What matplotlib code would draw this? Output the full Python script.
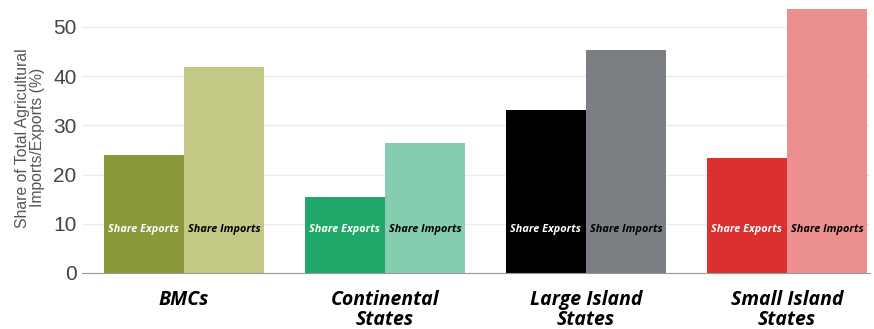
import matplotlib
matplotlib.use("Agg")
import matplotlib.pyplot as plt
import numpy as np

# datos
grupos = ["BMCs", "Continental\nStates", "Large Island\nStates", "Small Island\nStates"]
share_exports = [24.0, 15.4, 33.1, 23.3]
share_imports = [41.8, 26.4, 45.3, 53.7]
colores_exp = ["#8b983a", "#1fa86a", "#000000", "#da3030"]
colores_imp = ["#c3c885", "#86cdb0", "#7b7e82", "#ec8f8f"]
yticks = [0, 10, 20, 30, 40, 50]

fig = plt.figure(figsize=(8.74, 3.29), dpi=100)
ax = fig.add_axes([82/874, 56/329, (870-82)/874, 270.6/329])

x = np.arange(len(grupos))
w = 0.4
ax.bar(x - w/2, share_exports, w, color=colores_exp, zorder=2)
ax.bar(x + w/2, share_imports, w, color=colores_imp, zorder=2)

# etiquetas dentro de las barras
for i in range(len(grupos)):
    ax.text(x[i] - w/2, 8.8, "Share Exports", color="white", fontsize=7.8,
            fontweight="bold", fontstyle="italic", family="Open Sans",
            ha="center", va="center", zorder=3)
    ax.text(x[i] + w/2, 8.8, "Share Imports", color="black", fontsize=7.8,
            fontweight="bold", fontstyle="italic", family="Open Sans",
            ha="center", va="center", zorder=3)

ax.set_xlim(-0.507, 3.413)
ax.set_ylim(0, 55)
ax.set_yticks(yticks)
ax.set_yticklabels([str(t) for t in yticks], fontsize=15, color="#444444",
                   family="Liberation Sans")
ax.set_xticks(x)
ax.set_xticklabels(grupos, fontsize=14, fontweight="bold", fontstyle="italic",
                   family="Open Sans", linespacing=1.05, multialignment="center")
ax.tick_params(axis="both", length=0)
ax.tick_params(axis="x", pad=12)
ax.tick_params(axis="y", pad=4)
ax.grid(axis="y", color="#ececec", linewidth=1, zorder=0)

for s in ["top", "right", "left"]:
    ax.spines[s].set_visible(False)
ax.spines["bottom"].set_color("#999999")
ax.spines["bottom"].set_zorder(4)

ax.set_ylabel("Share of Total Agricultural\nImports/Exports (%)", fontsize=11.3,
              color="#555555", family="Liberation Sans", labelpad=6,
              linespacing=1.0)

fig.savefig("out.png", dpi=100)
